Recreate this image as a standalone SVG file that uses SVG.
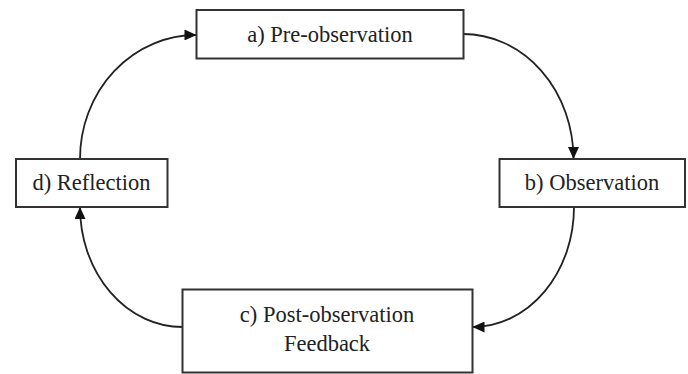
<svg xmlns="http://www.w3.org/2000/svg" width="688" height="374" viewBox="0 0 688 374">
<style>
.box{fill:#fff;stroke:#333;stroke-width:2}
.lbl{font-family:'Liberation Serif','DejaVu Serif',serif;font-size:22.5px;fill:#222;text-anchor:middle}
.conn{fill:none;stroke:#222;stroke-width:1.8}
</style>
<defs>
<marker id="arr" markerUnits="userSpaceOnUse" markerWidth="12" markerHeight="11" refX="12" refY="5.5" orient="auto">
<path d="M0,0 L12,5.5 L0,11 z" fill="#111"/>
</marker>
</defs>
<rect width="688" height="374" fill="#fff"/>
<g id="connectors">
<path class="conn" d="M80,159 A116,124 0 0 1 196.5,35" marker-end="url(#arr)"/>
<path class="conn" d="M463,34 A110.5,125 0 0 1 573.5,159" marker-end="url(#arr)"/>
<path class="conn" d="M574,207 A101.5,120 0 0 1 472.5,327" marker-end="url(#arr)"/>
<path class="conn" d="M182.5,327 A102.5,120 0 0 1 80,207" marker-end="url(#arr)"/>
</g>
<g id="node-a">
<rect class="box" x="196.5" y="10" width="267" height="48.5"/>
<text class="lbl" font-family="Liberation Serif, serif" x="330" y="42">a) Pre-observation</text>
</g>
<g id="node-b">
<rect class="box" x="499.5" y="159" width="185.5" height="48"/>
<text class="lbl" font-family="Liberation Serif, serif" x="592" y="190">b) Observation</text>
</g>
<g id="node-c">
<rect class="box" x="182.5" y="289.5" width="290" height="83"/>
<text class="lbl" font-family="Liberation Serif, serif" x="327" y="322">c) Post-observation</text>
<text class="lbl" font-family="Liberation Serif, serif" x="327" y="350.5">Feedback</text>
</g>
<g id="node-d">
<rect class="box" x="16" y="159" width="151.5" height="48"/>
<text class="lbl" font-family="Liberation Serif, serif" x="91.5" y="190">d) Reflection</text>
</g>
</svg>
